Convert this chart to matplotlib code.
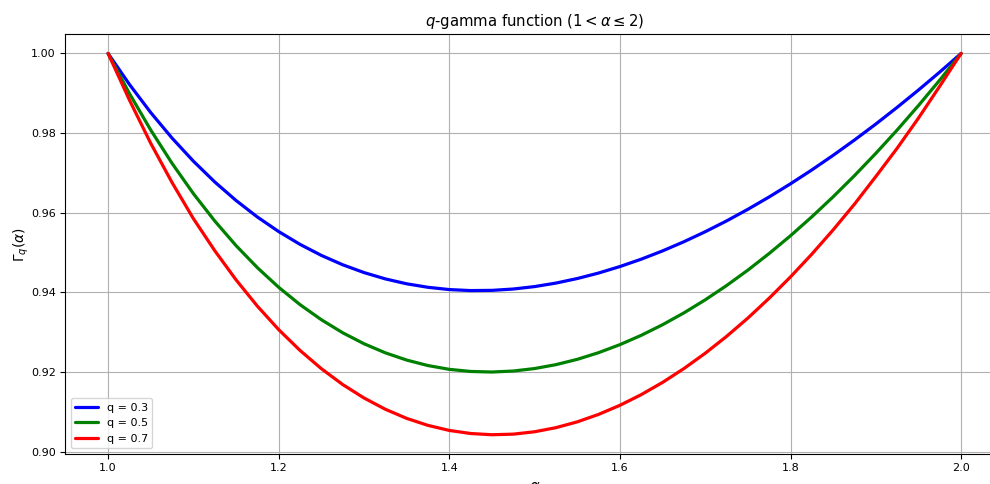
import matplotlib
matplotlib.use("Agg")
import matplotlib.pyplot as plt

alpha = [1.000, 1.025, 1.050, 1.075, 1.100, 1.125, 1.150, 1.175, 1.200, 1.225,
         1.250, 1.275, 1.300, 1.325, 1.350, 1.375, 1.400, 1.425, 1.450, 1.475,
         1.500, 1.525, 1.550, 1.575, 1.600, 1.625, 1.650, 1.675, 1.700, 1.725,
         1.750, 1.775, 1.800, 1.825, 1.850, 1.875, 1.900, 1.925, 1.950, 1.975,
         2.000]

gamma_q03 = [1.0, 0.99223, 0.98515, 0.97874, 0.97295, 0.96774, 0.96308, 0.95893, 0.95527, 0.95206,
             0.94929, 0.94694, 0.94498, 0.94339, 0.94216, 0.94128, 0.94071, 0.94046, 0.94051, 0.94085,
             0.94146, 0.94234, 0.94348, 0.94486, 0.94649, 0.94834, 0.95042, 0.95272, 0.95523, 0.95794,
             0.96086, 0.96397, 0.96727, 0.97075, 0.97442, 0.97826, 0.98227, 0.98646, 0.99081, 0.99533,
             1.0]

gamma_q05 = [1.0, 0.98994, 0.98076, 0.97240, 0.96480, 0.95794, 0.95175, 0.94621, 0.94128, 0.93693,
             0.93314, 0.92987, 0.92711, 0.92483, 0.92301, 0.92163, 0.92068, 0.92015, 0.92001, 0.92026,
             0.92088, 0.92186, 0.92319, 0.92487, 0.92688, 0.92922, 0.93188, 0.93485, 0.93813, 0.94171,
             0.94559, 0.94977, 0.95423, 0.95898, 0.96401, 0.96932, 0.97491, 0.98077, 0.98691, 0.99332,
             1.0]

gamma_q07 = [1.0, 0.98831, 0.97743, 0.96758, 0.95852, 0.95049, 0.94315, 0.93655, 0.93065, 0.92543,
             0.92085, 0.91687, 0.91349, 0.91066, 0.90837, 0.90661, 0.90534, 0.90457, 0.90426, 0.90441,
             0.90501, 0.90604, 0.90749, 0.90937, 0.91165, 0.91433, 0.91740, 0.92087, 0.92472, 0.92895,
             0.93355, 0.93854, 0.94389, 0.94961, 0.95570, 0.96216, 0.96909, 0.97619, 0.98376, 0.99179,
             1.0]

series = [("q = 0.3", gamma_q03, "blue"),
          ("q = 0.5", gamma_q05, "green"),
          ("q = 0.7", gamma_q07, "red")]

x_ticks = [1.0, 1.2, 1.4, 1.6, 1.8, 2.0]
y_ticks = [0.90, 0.92, 0.94, 0.96, 0.98, 1.00]
y_tick_labels = ["0.90", "0.92", "0.94", "0.96", "0.98", "1.00"]

fig = plt.figure(figsize=(9.9, 4.84), dpi=100)
ax = fig.add_axes([0.0661, 0.0626, 0.9478, 0.8665])

for label, vals, col in series:
    ax.plot(alpha, vals, color=col, linewidth=2.3, label=label,
            solid_joinstyle="round", solid_capstyle="round")

ax.set_xlim(0.95, 2.05)
ax.set_ylim(0.8995, 1.0048)
ax.set_xticks(x_ticks)
ax.set_yticks(y_ticks)
ax.set_yticklabels(y_tick_labels)
ax.tick_params(labelsize=8)
ax.grid(True, color="#b0b0b0", linewidth=0.8)

ax.set_title(r"$q$-gamma function ($1 < \alpha \leq 2$)", fontsize=10.7)
ax.set_xlabel(r"$\alpha$", fontsize=10.5)
ax.set_ylabel(r"$\Gamma_q(\alpha)$", fontsize=10, labelpad=0)
ax.legend(loc="lower left", fontsize=8)

fig.savefig("out.png", dpi=100)
